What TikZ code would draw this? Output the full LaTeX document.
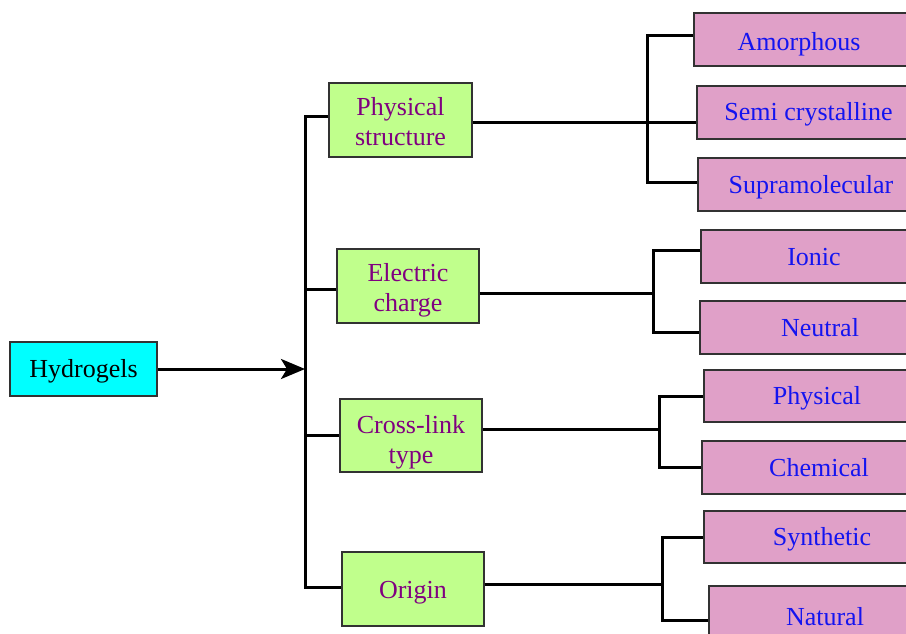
\documentclass[tikz,border=0pt]{standalone}
\usepackage{fontspec}
\setmainfont{Liberation Serif}
\usetikzlibrary{arrows.meta}
\definecolor{cyanbox}{RGB}{0,255,255}
\definecolor{greenbox}{RGB}{192,255,140}
\definecolor{pinkbox}{RGB}{224,160,200}
\definecolor{purpletext}{RGB}{128,0,128}
\definecolor{bluetext}{RGB}{20,20,240}
\definecolor{edge}{RGB}{50,50,50}
\begin{document}
\begin{tikzpicture}[x=1pt,y=-1pt,
  every node/.style={font=\fontsize{26}{30}\selectfont, inner sep=0pt, align=center},
  hbox/.style={draw=edge, line width=1.2pt, fill=cyanbox, text=black, text height=22pt, text depth=5pt},
  gbox/.style={draw=edge, line width=1.2pt, fill=greenbox},
  gtext/.style={text=purpletext, align=center},
  pbox/.style={draw=edge, line width=1.2pt, fill=pinkbox, text=bluetext, text height=22pt, text depth=5pt},
  conn/.style={line width=3pt, black}]
\useasboundingbox (0,0) rectangle (906,634);
\clip (0,0) rectangle (906,634);
\fill[white] (0,0) rectangle (906,634);
% root
\node[hbox, minimum width=147pt, minimum height=54pt] (hyd) at (83.5,369) {Hydrogels};
% categories
\node[gbox, minimum width=143pt, minimum height=74pt,
  label={[gtext, yshift=-1.5pt]center:{Physical\\structure}}] (ps) at (400.5,120) {};
\node[gbox, minimum width=142pt, minimum height=74pt,
  label={[gtext, yshift=-4pt]center:{Electric\\charge}}] (ec) at (408,286) {};
\node[gbox, minimum width=142pt, minimum height=73pt,
  label={[gtext, yshift=-7pt]center:{Cross-link\\type}}] (cl) at (411,435.5) {};
\node[gbox, minimum width=142pt, minimum height=74pt,
  label={[gtext, yshift=-4pt]center:{Origin}}] (orig) at (413,589) {};
% leaves
\node[pbox, minimum width=250pt, minimum height=53pt] (amor) at (819,39.5) {\raisebox{-3pt}{Amorphous}\hspace*{40pt}};
\node[pbox, minimum width=243pt, minimum height=53pt] (semi) at (818.5,112.5) {Semi crystalline\hspace*{20pt}};
\node[pbox, minimum width=246pt, minimum height=53pt] (supra) at (821,184.5) {Supramolecular\hspace*{20pt}};
\node[pbox, minimum width=226pt, minimum height=53pt] (ionic) at (814,256.5) {Ionic};
\node[pbox, minimum width=240pt, minimum height=53pt] (neut) at (820,327.5) {Neutral};
\node[pbox, minimum width=226pt, minimum height=52pt] (phys) at (817,396) {Physical};
\node[pbox, minimum width=234pt, minimum height=53pt] (chem) at (819,467.5) {Chemical};
\node[pbox, minimum width=236pt, minimum height=52pt] (syn) at (822,537) {Synthetic};
\node[pbox, minimum width=232pt, minimum height=53pt] (nat) at (825,612.5) {\raisebox{-4pt}{Natural}};
% trunk
\coordinate (t) at (305,369);
\coordinate (b1) at (647,123);
\coordinate (b2) at (653,293);
\coordinate (b3) at (659,429);
\coordinate (b4) at (662,584);
\draw[conn, -{Stealth[length=24pt,width=20pt,inset=6pt]}] (hyd.east) -- (hyd.east -| t);
\draw[conn] ([yshift=3pt]ps.west) -| (t) |- ([yshift=2pt]orig.west);
\draw[conn] ([yshift=-3pt]ec.west) -- ([yshift=-3pt]ec.west -| t);
\draw[conn] (cl.west) -- (cl.west -| t);
% brackets
\draw[conn] (ps.east |- b1) -- (b1 -| semi.west);
\draw[conn] ([yshift=3.5pt]amor.west) -| (b1) |- ([yshift=2.5pt]supra.west);
\draw[conn] (ec.east |- b2) -- (b2);
\draw[conn] ([yshift=6.5pt]ionic.west) -| (b2) |- ([yshift=-4.5pt]neut.west);
\draw[conn] (cl.east |- b3) -- (b3);
\draw[conn] (phys.west) -| (b3) |- (chem.west);
\draw[conn] (orig.east |- b4) -- (b4);
\draw[conn] (syn.west) -| (b4) |- ([yshift=-7.5pt]nat.west);
\end{tikzpicture}
\end{document}
